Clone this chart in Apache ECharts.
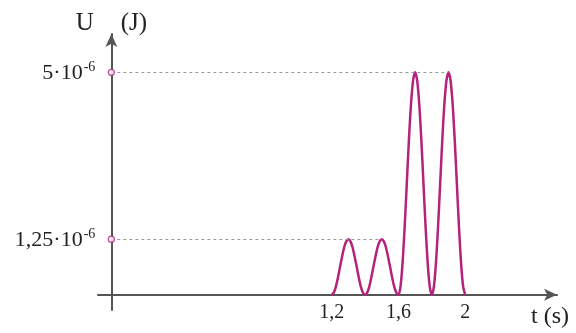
<!DOCTYPE html>
<html>
<head>
<meta charset="utf-8">
<script src="https://cdn.jsdelivr.net/npm/echarts@6/dist/echarts.min.js"></script>
<style>
html,body{margin:0;padding:0;background:#fff;}
#chart{width:576px;height:333px;}
</style>
</head>
<body>
<div id="chart"></div>
<script>
// time (s)
const tValues = [
 1.2,1.2125,1.225,1.2375,1.25,1.2625,1.275,1.2875,1.3,1.3125,1.325,1.3375,1.35,1.3625,1.375,1.3875,
 1.4,1.4125,1.425,1.4375,1.45,1.4625,1.475,1.4875,1.5,1.5125,1.525,1.5375,1.55,1.5625,1.575,1.5875,
 1.6,1.6125,1.625,1.6375,1.65,1.6625,1.675,1.6875,1.7,1.7125,1.725,1.7375,1.75,1.7625,1.775,1.7875,
 1.8,1.8125,1.825,1.8375,1.85,1.8625,1.875,1.8875,1.9,1.9125,1.925,1.9375,1.95,1.9625,1.975,1.9875,
 2.0];
// energy U in units of 10^-6 J
const uMicroJ = [
 0,0.05,0.18,0.39,0.63,0.86,1.07,1.2,1.25,1.2,1.07,0.86,0.63,0.39,0.18,0.05,
 0,0.05,0.18,0.39,0.63,0.86,1.07,1.2,1.25,1.2,1.07,0.86,0.63,0.39,0.18,0.05,
 0,0.19,0.73,1.54,2.5,3.46,4.27,4.81,5,4.81,4.27,3.46,2.5,1.54,0.73,0.19,
 0,0.19,0.73,1.54,2.5,3.46,4.27,4.81,5,4.81,4.27,3.46,2.5,1.54,0.73,0.19,
 0];
const xTickValues = [1.2,1.6,2];
const xTickLabels = ['1,2','1,6','2'];
const yTickValues = [1.25,5];
const yTickMantissa = ['1,25','5'];
const yTickExponent = ['-6','-6'];
const xAxisName = 't (s)';
const yAxisNameQty = 'U';
const yAxisNameUnit = '(J)';
// schematic: the U axis crosses the t axis slightly left of t = 0
const yAxisCrossT = -0.12;

const magenta = '#b5227c';
const axisColor = '#555555';
const serif = 'Liberation Serif';

const xMin = -0.2, xMax = 2.55;
const yMin = -0.34, yMax = 5.86;

const curve = tValues.map((t,i)=>[t,uMicroJ[i]]);
// end of each dashed guide: last time the curve reaches that level
const guides = yTickValues.map(v=>{
  let tEnd = yAxisCrossT;
  tValues.forEach((t,i)=>{ if (uMicroJ[i] === v) tEnd = t; });
  return [{coord:[yAxisCrossT, v]},{coord:[tEnd, v]}];
});

const chart = echarts.init(document.getElementById('chart'));
const option = {
  animation:false,
  backgroundColor:'#fff',
  grid:{left:98,right:19,top:34,bottom:23,containLabel:false,outerBoundsMode:'none'},
  xAxis:{
    type:'value', min:xMin, max:xMax,
    axisLine:{onZero:true, lineStyle:{color:axisColor,width:2}, symbol:['none','arrow'], symbolSize:[9,13]},
    axisTick:{show:false},
    splitLine:{show:false},
    axisLabel:{
      customValues:xTickValues,
      formatter:(v)=>{const i=xTickValues.findIndex(x=>Math.abs(x-v)<1e-9);return i>=0?xTickLabels[i]:'';},
      fontFamily:serif,fontSize:20,color:'#222',margin:-7
    },
    name:xAxisName, nameLocation:'end', nameGap:12,
    nameTextStyle:{fontFamily:serif,fontSize:24,color:'#222',align:'right',verticalAlign:'top',padding:[10,0,0,0]}
  },
  yAxis:{
    type:'value', min:yMin, max:yMax, position:'left', offset:0,
    axisLine:{onZero:false, lineStyle:{color:axisColor,width:2}, symbol:['none','arrow'], symbolSize:[9,13]},
    axisTick:{show:false},
    splitLine:{show:false},
    axisLabel:{
      customValues:yTickValues,
      formatter:(v)=>{const i=yTickValues.findIndex(x=>Math.abs(x-v)<1e-9);return i>=0?('{b|'+yTickMantissa[i]+'·10}{s|'+yTickExponent[i]+'}'):'';},
      margin:16,
      rich:{
        b:{fontFamily:serif,fontSize:22,color:'#222',lineHeight:24,verticalAlign:'bottom',padding:[4,0,0,0]},
        s:{fontFamily:serif,fontSize:14,color:'#222',verticalAlign:'top',padding:[0,0,0,1]}
      }
    },
    name:'{q|'+yAxisNameQty+'}{g|}{u|'+yAxisNameUnit+'}', nameLocation:'end', nameGap:-2,
    nameTextStyle:{
      rich:{
        q:{fontFamily:serif,fontSize:25,color:'#222'},
        g:{width:27},
        u:{fontFamily:serif,fontSize:25,color:'#222'}
      }
    }
  },
  series:[
    {
      type:'line', data:curve, smooth:0.3, showSymbol:false,
      lineStyle:{color:magenta,width:2.5}, z:3
    },
    {
      type:'scatter', data:yTickValues.map(v=>[yAxisCrossT,v]),
      symbol:'circle', symbolSize:6,
      itemStyle:{color:'#fff',borderColor:magenta,borderWidth:1.3}, z:5,
      markLine:{
        silent:true, symbol:['none','none'], label:{show:false},
        lineStyle:{color:'#9a9a9a',type:[3,3],width:1},
        data:guides
      }
    }
  ]
};
chart.setOption(option);
const pxCross = chart.convertToPixel({xAxisIndex:0}, yAxisCrossT);
const pxLeft = chart.convertToPixel({xAxisIndex:0}, xMin);
chart.setOption({yAxis:{offset:-(pxCross-pxLeft)}});
</script>
</body>
</html>
